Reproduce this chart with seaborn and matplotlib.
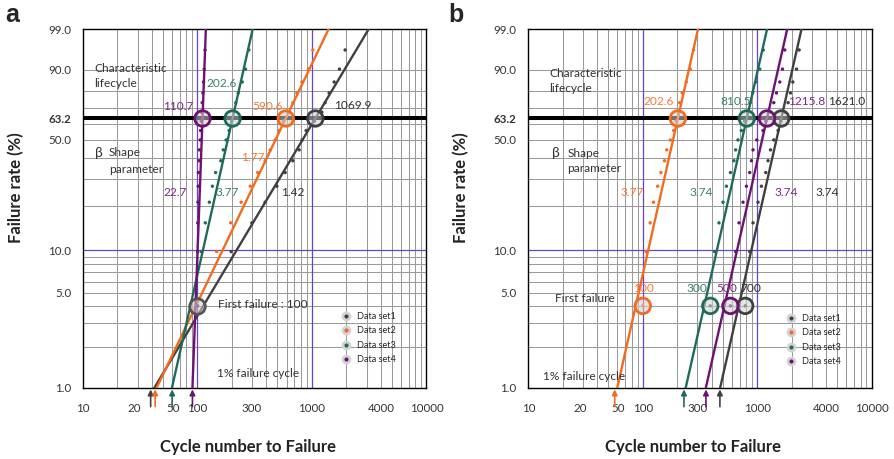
import numpy as np
import pandas as pd
import matplotlib
matplotlib.use("Agg")
import matplotlib.pyplot as plt
import seaborn as sns
from matplotlib.lines import Line2D
from matplotlib.transforms import ScaledTranslation, blended_transform_factory

sns.set_style("white")
plt.rcParams["font.family"] = ["Lato", "DejaVu Sans"]

# ---------------- data ----------------
series = ["Data set1", "Data set2", "Data set3", "Data set4"]
colors = ["#404040", "#F26B1F", "#1F6B5B", "#6D1272"]
text_colors = ["#333333", "#F47A3A", "#3C7F70", "#7A2A80"]

# median-rank failure percentage for ranks 1..17
rank_pct = [4.0, 9.8, 15.5, 21.3, 27.0, 32.8, 38.5, 44.3, 50.0,
            55.7, 61.5, 67.2, 73.0, 78.7, 84.5, 90.2, 96.0]

# panel a: cycles to failure
a_set1 = [100, 197, 299, 390, 494, 583, 681, 773, 821, 890, 1050, 1221, 1304, 1413, 1563, 1739, 1950]
a_set2 = [100, 147, 195, 241, 289, 336, 390, 432, 477, 517, 560, 611, 681, 738, 816, 932, 1018]
a_set3 = [100, 108, 117, 127, 135, 144, 160, 168, 178, 189, 199, 207, 216, 227, 246, 263, 281]
a_set4 = [100, 100.3, 100.6, 101, 101.5, 102, 103, 104, 105.5, 106.5, 107.5, 108.5, 110, 111.5, 113, 114.5, 116.5]
# panel b: cycles to failure
b_set1 = [785, 860, 919, 1016, 1088, 1187, 1243, 1305, 1395, 1521, 1606, 1741, 1861, 1953, 2046, 2205, 2323]
b_set2 = [100, 107, 116, 124, 135, 144, 155, 162, 174, 186, 195, 205, 210, 221, 240, 260, 278]
b_set3 = [389, 424, 463, 502, 538, 583, 626, 648, 679, 727, 777, 826, 869, 913, 970, 1052, 1129]
b_set4 = [583, 648, 693, 751, 804, 860, 890, 919, 990, 1124, 1187, 1305, 1395, 1473, 1574, 1662, 1741]

# Weibull fits: characteristic life (eta) and shape (beta)
eta_a = [1069.9, 590.6, 202.6, 110.7]
beta_a = [1.42, 1.77, 3.77, 22.7]
eta_b = [1621.0, 202.6, 810.5, 1215.8]
beta_b = [3.74, 3.77, 3.74, 3.74]
eta_lbl_a = ["1069.9", "590.6", "202.6", "110.7"]
beta_lbl_a = ["1.42", "1.77", "3.77", "22.7"]
eta_lbl_b = ["1621.0", "202.6", "810.5", "1215.8"]
beta_lbl_b = ["3.74", "3.77", "3.74", "3.74"]
first_lbl_b = ["700", "100", "300", "500"]

# 1% failure cycles (arrows)
onepct_a = [39.0, 42.7, 60.1, 90.4]
onepct_b = [472.0, 56.9, 229.0, 356.5]

x_ticks = [10, 20, 50, 100, 300, 1000, 4000, 10000]
x_ticklabels = ["10", "20", "50", "100", "300", "1000", "4000", "10000"]
y_ticks = [1, 5, 10, 50, 63.2, 90, 99]
y_ticklabels = ["1.0", "5.0", "10.0", "50.0", "63.2", "90.0", "99.0"]

GRID = "#9a9a9a"
PURPLE_GRID = "#6A45C2"


def fwd(p):
    p = np.clip(np.asarray(p, dtype=float), 1e-9, 100 - 1e-9)
    return np.log(-np.log(1 - p / 100.0))


def inv(y):
    return 100.0 * (1 - np.exp(-np.exp(np.asarray(y, dtype=float))))


fig = plt.figure(figsize=(8.94, 4.59), dpi=100)
W, H = 894, 459


def make_axes(left_px):
    return fig.add_axes([left_px / W, (H - 388) / H, 343.4 / W, 359 / H])


def draw_panel(ax, sets, etas, betas, onepct):
    # grid
    for dec in [10, 100, 1000]:
        for m in range(2, 10):
            ax.axvline(dec * m, color=GRID, lw=0.75, zorder=0.5)
    for v in [100, 1000]:
        ax.axvline(v, color=PURPLE_GRID, lw=0.9, zorder=0.6)
    for v in [2, 3, 4, 5, 6, 7, 8, 9, 20, 30, 40, 50, 60, 70, 80, 90]:
        ax.axhline(v, color=GRID, lw=0.75, zorder=0.5)
    ax.axhline(10, color=PURPLE_GRID, lw=0.9, zorder=0.6)
    ax.axhline(63.2, color="black", lw=2.9, zorder=2)

    # fitted lines
    rows = []
    for s, eta, beta in zip(series, etas, betas):
        for F in (1.0, 99.0):
            rows.append({"series": s, "F": F,
                         "x": eta * (-np.log(1 - F / 100)) ** (1 / beta)})
    lines = pd.DataFrame(rows)
    sns.lineplot(data=lines, x="x", y="F", hue="series", units="series",
                 estimator=None, sort=False, palette=colors, hue_order=series,
                 lw=1.7, legend=False, ax=ax, zorder=3)

    # data points
    pts = pd.DataFrame([{"series": s, "x": x, "F": F}
                        for s, vals in zip(series, sets)
                        for x, F in zip(vals, rank_pct)])
    sns.scatterplot(data=pts, x="x", y="F", hue="series", palette=colors,
                    hue_order=series, s=6, linewidth=0, legend=False, ax=ax,
                    zorder=4)

    # characteristic life circles
    ax.scatter(etas, [63.2] * 4, s=125, facecolors=(0.82, 0.82, 0.82, 0.55),
               edgecolors=colors, linewidths=2.0, zorder=5)

    # 1% arrows
    tr = blended_transform_factory(ax.transData, ax.transAxes)
    for x, c in zip(onepct, colors):
        ax.annotate("", xy=(x, -0.004), xytext=(x, -0.052), xycoords=tr,
                    textcoords=tr, annotation_clip=False,
                    arrowprops=dict(arrowstyle="-|>", color=c, lw=1.2,
                                    mutation_scale=8, shrinkA=0, shrinkB=0))

    ax.set_xscale("log")
    ax.set_yscale("function", functions=(fwd, inv))
    ax.set_xlim(10, 10000)
    ax.set_ylim(1, 99)

    # ticks
    ax.xaxis.set_minor_locator(matplotlib.ticker.NullLocator())
    ax.yaxis.set_minor_locator(matplotlib.ticker.NullLocator())
    ax.set_xticks(x_ticks)
    ax.set_xticklabels(x_ticklabels)
    ax.set_yticks(y_ticks)
    ax.set_yticklabels(y_ticklabels)
    ax.tick_params(axis="x", direction="inout", length=6, width=1,
                   labelsize=8.3, pad=8, colors="black")
    ax.tick_params(axis="x", labelcolor="#333333")
    ax.tick_params(axis="y", direction="out", length=3, width=0.9,
                   labelsize=8.3, labelcolor="#333333", pad=5.5)
    for sp in ax.spines.values():
        sp.set_color("black")
        sp.set_linewidth(1.0)
        sp.set_visible(True)

    for tick, loc in zip(ax.xaxis.get_major_ticks(), x_ticks):
        if loc in (100, 1000):
            tick.tick1line.set_color(PURPLE_GRID)
        elif loc not in (10, 10000):
            tick.tick1line.set_visible(False)
    for tick, loc in zip(ax.yaxis.get_major_ticks(), y_ticks):
        if loc == 63.2:
            tick.tick1line.set_markeredgewidth(2.9)
            tick.label1.set_fontweight("bold")
        elif loc == 10:
            tick.tick1line.set_color(PURPLE_GRID)
        elif loc in (90, 50, 5):
            tick.tick1line.set_color(GRID)
    for lab in ax.get_xticklabels():
        if lab.get_text() == "20":
            lab.set_transform(lab.get_transform() + ScaledTranslation(0.17, 0, fig.dpi_scale_trans))
        elif lab.get_text() == "50":
            lab.set_transform(lab.get_transform() + ScaledTranslation(0.10, 0, fig.dpi_scale_trans))

    ax.set_xlabel("Cycle number to Failure", fontsize=12, fontweight="bold",
                  color="#222222")
    ax.set_ylabel("Failure rate (%)", fontsize=12, fontweight="bold",
                  color="#222222")
    ax.xaxis.set_label_coords(0.48, -0.142)
    ax.yaxis.set_label_coords(-0.172, 0.557)

    leg_handles = [Line2D([], [], ls="none", marker="o", markersize=5,
                          markerfacecolor=c, markeredgecolor="#d3d3d3",
                          markeredgewidth=2.0) for c in colors]
    return leg_handles


def txt(ax, x, y, s, color="#333333", ha="left", size=8.6, **kw):
    ax.text(x, y, s, transform=ax.transAxes, ha=ha, va="center", color=color,
            fontsize=size, zorder=6, **kw)


# ---------------- panel a ----------------
axa = make_axes(83)
handles = draw_panel(axa, [a_set1, a_set2, a_set3, a_set4], eta_a, beta_a, onepct_a)
axa.scatter([a_set1[0]], [rank_pct[0]], s=125, facecolors=(0.82, 0.82, 0.82, 0.55),
            edgecolors="#555555", linewidths=2.0, zorder=5)
txt(axa, 0.033, 0.8905, "Characteristic")
txt(axa, 0.033, 0.8487, "lifecycle")
for (x, y), s, c in zip([(0.786, 0.788), (0.539, 0.7855), (0.404, 0.8487), (0.278, 0.7836)],
                        eta_lbl_a, text_colors):
    txt(axa, x, y, s, color=c, ha="center")
txt(axa, 0.0335, 0.6554, "β", size=10)
txt(axa, 0.0758, 0.6546, "Shape")
txt(axa, 0.0758, 0.610, "parameter")
for (x, y), s, c in zip([(0.611, 0.544), (0.494, 0.6415), (0.4207, 0.544), (0.268, 0.544)],
                        beta_lbl_a, text_colors):
    txt(axa, x, y, s, color=c, ha="center")
txt(axa, 0.3945, 0.2312, "First failure : 100")
txt(axa, 0.3898, 0.041, "1% failure cycle")
axa.legend(handles, series, loc="center left", bbox_to_anchor=(0.7517, 0.1393),
           frameon=False, fontsize=6.6, handlelength=1, handletextpad=0.7,
           labelspacing=0.6, borderpad=0, borderaxespad=0)

# ---------------- panel b ----------------
axb = make_axes(528.3)
handles = draw_panel(axb, [b_set1, b_set2, b_set3, b_set4], eta_b, beta_b, onepct_b)
axb.scatter([b_set1[0], b_set2[0], b_set3[0], b_set4[0]], [rank_pct[0]] * 4, s=125,
            facecolors=(0.82, 0.82, 0.82, 0.55), edgecolors=colors, linewidths=2.0,
            zorder=5)
txt(axb, 0.0603, 0.8766, "Characteristic")
txt(axb, 0.0603, 0.8348, "lifecycle")
for x, s, c in zip([0.9266, 0.3806, 0.604, 0.810], eta_lbl_b, text_colors):
    txt(axb, x, 0.7975, s, color=c, ha="center")
txt(axb, 0.0681, 0.6536, "β", size=10)
txt(axb, 0.1136, 0.6536, "Shape")
txt(axb, 0.1136, 0.611, "parameter")
for x, s, c in zip([0.869, 0.3029, 0.502, 0.7513], beta_lbl_b, text_colors):
    txt(axb, x, 0.544, s, color=c, ha="center")
txt(axb, 0.0768, 0.2499, "First failure")
for x, s, c in zip([0.6465, 0.337, 0.492, 0.578], first_lbl_b, text_colors):
    txt(axb, x, 0.2777, s, color=c, ha="center")
txt(axb, 0.0428, 0.0315, "1% failure cycle")
axb.legend(handles, series, loc="center left", bbox_to_anchor=(0.752, 0.1337),
           frameon=False, fontsize=6.6, handlelength=1, handletextpad=0.7,
           labelspacing=0.6, borderpad=0, borderaxespad=0)

fig.text(5 / W, (H - 21.7) / H, "a", fontsize=18, fontweight="bold",
         family=["Liberation Sans", "DejaVu Sans"], ha="left", va="baseline")
fig.text(448 / W, (H - 21.7) / H, "b", fontsize=18, fontweight="bold",
         family=["Liberation Sans", "DejaVu Sans"], ha="left", va="baseline")

fig.savefig("out.png", dpi=100)
